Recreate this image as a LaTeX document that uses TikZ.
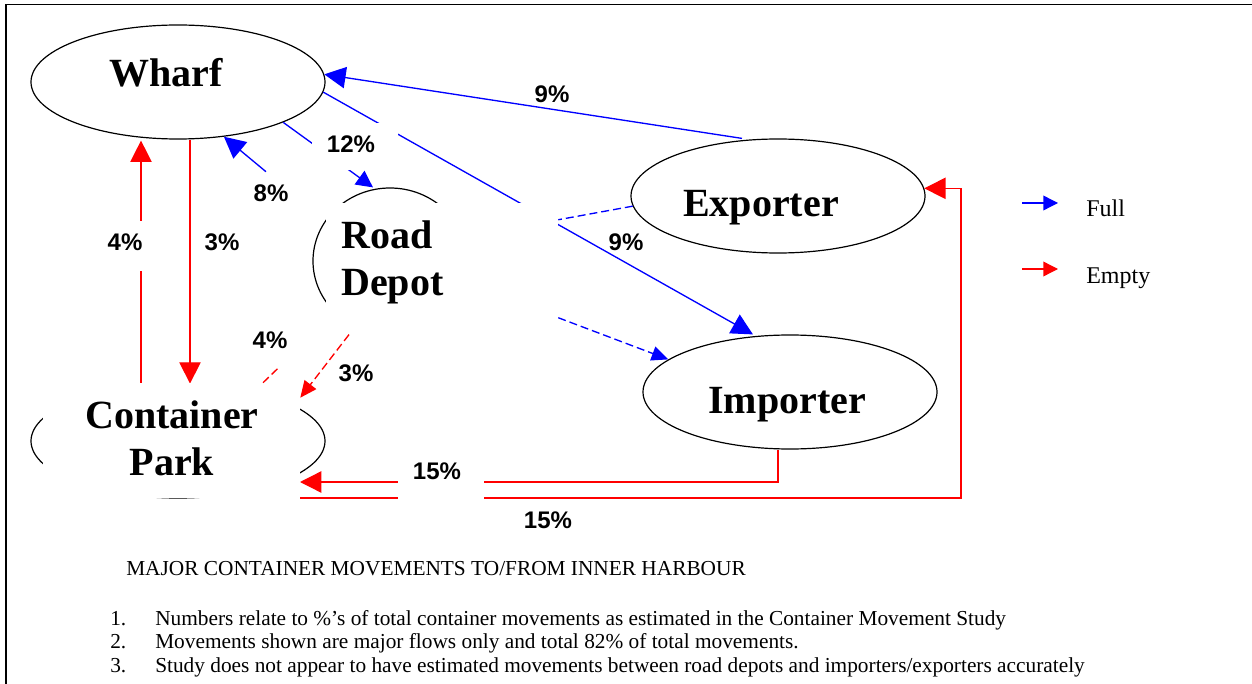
\documentclass[tikz,border=0pt]{standalone}
\usepackage{fontspec}
\setmainfont{Liberation Serif}
\newfontfamily\pctfont{Liberation Sans}
\usetikzlibrary{arrows.meta,shapes.geometric,calc}

\tikzset{
  place/.style={draw, line width=0.9pt, ellipse, inner sep=0pt,
    minimum width=220.5pt, minimum height=85.5pt},
  roundplace/.style={draw, line width=0.9pt, ellipse, inner sep=0pt,
    minimum width=115.5pt, minimum height=109.5pt},
  textbox/.style={fill=white, draw=none, inner sep=0pt},
  title/.style={font=\fontsize{30}{36}\selectfont\bfseries, anchor=base, inner sep=0pt},
  pct/.style={font=\pctfont\fontsize{18}{20}\selectfont\bfseries, anchor=base, inner sep=0pt},
  pctbox/.style={pct, fill=white, text height=22.5pt, text depth=15pt,
    inner ysep=0pt, inner xsep=14.25pt,
    execute at begin node={\hspace*{-3pt}}, execute at end node={\hspace*{3pt}}},
  fullflow/.style={draw=blue, line width=1pt, -{Triangle[length=16pt,width=16pt]}},
  emptyflow/.style={draw=red, line width=1pt, -{Triangle[length=16pt,width=16pt]}},
  fulldash/.style={draw=blue, line width=1pt, dash pattern=on 6pt off 3pt},
  emptydash/.style={draw=red, line width=1pt, dash pattern=on 6pt off 3pt},
  dashhead/.style={-{Triangle[length=12.5pt,width=11pt]}},
  smallhead/.style={-{Triangle[length=12.5pt,width=12.5pt]}},
  legendhead/.style={-{Triangle[length=11pt,width=11pt]}},
  legendtext/.style={font=\fontsize{18}{20}\selectfont, anchor=base west, inner sep=0pt},
  notetext/.style={font=\fontsize{16}{18}\selectfont, anchor=base west, inner sep=0pt}
}

\begin{document}
\begin{tikzpicture}[x=0.75pt, y=-0.75pt]
\useasboundingbox (0,0) rectangle (1252,684);

% frame
\draw[line width=1.2pt] (6,684) -- (6,4.5) -- (1252,4.5);

% places
\node[place] (wharf) at (178,82) {};
\node[place] (exporter) at (778,196) {};
\node[place] (importer) at (790,392) {};
\node[place] (cpark) at (178,441) {};
\node[roundplace] (depot) at (390,261) {};

% full movements
\draw[fullflow] ($(exporter.north)+(-36,0)$) -- (wharf.3);
\draw[fullflow] (wharf.-4) -- ($(importer.north)+(-37,0)$);
\draw[fullflow, smallhead] (wharf.-21) -- ($(depot.north)+(-17,0)$);

% empty movements between wharf and container park
\draw[emptyflow] ($(wharf.south)+(12,0)$) -- ($(wharf.south)+(12,244)$);
\draw[emptyflow] ($(wharf.south)+(-37,244)$) -- ($(wharf.south)+(-37,1)$);

% empty returns from importer and to exporter
\coordinate (loopcorner) at (961,498);
\draw[emptyflow] ($(importer.south)+(-12,0)$) |- (300,482) coordinate (cpin);
\draw[emptyflow] (300,498) coordinate (cpout) -- (loopcorner) |- (exporter.3);

% text boxes of road depot and container park
\node[textbox, minimum width=174pt, minimum height=99.75pt] (depotbox) at (442,269.5) {};
\node[textbox, minimum width=192.75pt, minimum height=86.25pt] (cpbox) at (171.5,440.5) {};

% dashed links of the road depot
\draw[fulldash] (exporter.184) -- ($(depotbox.north east)+(0,17)$);
\draw[fulldash, dashhead] ($(depotbox.north east)+(0,115)$) -- (importer.165);
\draw[emptydash, dashhead] ($(depot.south)+(-41,0)$) -- ($(cpbox.north east)+(0,15)$);

% percentages
\node[pct] (lab9a) at (552,103) {9\%};
\node[pctbox, text depth=12.75pt] (lab12) at (355,153) {12\%};
\node[pctbox] (lab8) at (275,202) {8\%};
\node[pctbox] (lab4a) at (129,251) {4\%};
\node[pct] (lab3a) at (222,251) {3\%};
\node[pct] (lab9b) at (626,251) {9\%};
\node[pctbox] (lab4b) at (274,348) {4\%};
\node[pct] (lab3b) at (356,381) {3\%};
\node[pctbox] (lab15a) at (441,479) {15\%};
\node[pct] (lab15b) at (548,528) {15\%};

% connectors leaving the label boxes
\draw[fullflow] ($(lab8.north)+(-9,0)$) -- (wharf.-50);
\draw[emptydash] ($(cpbox.north)+(91.5,0)$) -- ($(lab4b.south)+(4,0)$);

% place names
\node[title] (wharftext) at (166,87) {Wharf};
\node[title] (exptext) at (761,217) {Exporter};
\node[title] (imptext) at (787,413) {Importer};
\node[title, anchor=base west] (roadtext) at (341,248) {Road};
\node[title, anchor=base west] (depottext) at (341,295) {Depot};
\node[title] (conttext) at (172,428) {Container};
\node[title] (parktext) at (172,475) {Park};

% legend
\coordinate (fullA) at (1022,203);
\coordinate (fullB) at (1058,203);
\coordinate (emptyA) at (1022,269);
\coordinate (emptyB) at (1058,269);
\draw[draw=blue, line width=1pt, legendhead] (fullA) -- (fullB);
\draw[draw=red, line width=1pt, legendhead] (emptyA) -- (emptyB);
\node[legendtext] (fulltext) at (1086,217) {Full};
\node[legendtext] (emptytext) at (1086,283) {Empty};

% caption and notes
\node[notetext] (caption) at (126,575) {MAJOR CONTAINER MOVEMENTS TO/FROM INNER HARBOUR};
\node[notetext] (n1) at (110,625) {1.};
\node[notetext] (t1) at (155,625) {Numbers relate to \%’s of total container movements as estimated in the Container Movement Study};
\node[notetext] (n2) at (110,648) {2.};
\node[notetext] (t2) at (155,648) {Movements shown are major flows only and total 82\% of total movements.};
\node[notetext] (n3) at (110,672) {3.};
\node[notetext] (t3) at (155,672) {Study does not appear to have estimated movements between road depots and importers/exporters accurately};
\end{tikzpicture}
\end{document}
